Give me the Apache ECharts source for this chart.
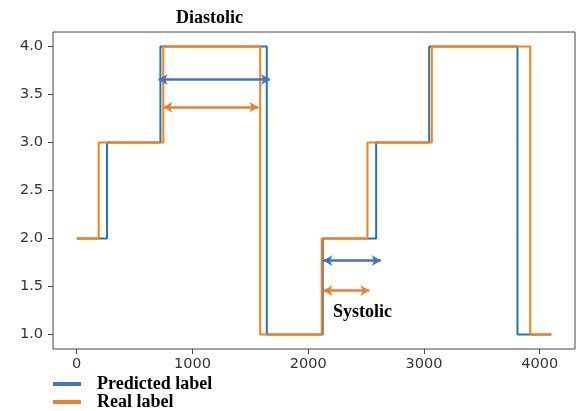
<!DOCTYPE html>
<html>
<head>
<meta charset="utf-8">
<script src="https://cdn.jsdelivr.net/npm/echarts@6/dist/echarts.min.js"></script>
<style>html,body{margin:0;padding:0;background:#fff}#c{width:578px;height:411px}</style>
</head>
<body>
<div id="c"></div>
<script>
const xTicks = [0, 1000, 2000, 3000, 4000];
const yTicks = [1.0, 1.5, 2.0, 2.5, 3.0, 3.5, 4.0];
const predX = [0, 262, 723, 1642, 2126, 2587, 3045, 3808, 4100];
const predY = [2, 3, 4, 1, 2, 3, 4, 1, 1];
const realX = [0, 190, 748, 1585, 2117, 2512, 3068, 3918, 4100];
const realY = [2, 3, 4, 1, 2, 3, 4, 1, 1];
// arrows: [x0, x1, y]
const predArrows = [[706, 1671, 3.655], [2131, 2627, 1.77]];
const realArrows = [[748, 1570, 3.367], [2131, 2529, 1.457]];
const seriesNames = ['Predicted label', 'Real label'];
const annotations = ['Diastolic', 'Systolic'];

const chart = echarts.init(document.getElementById('c'), null, {renderer: 'canvas'});
const zip = (xs, ys) => xs.map((x, i) => [x, ys[i]]);
const arrowData = arr => arr.map(a => [{coord: [a[0], a[2]]}, {coord: [a[1], a[2]]}]);
const tickFont = {fontFamily: 'DejaVu Sans', fontSize: 14.5, color: '#333'};
const serif = 'Liberation Serif';
const legendBase = {
  orient: 'vertical', left: 53, padding: 0, itemGap: 0,
  icon: 'rect', itemWidth: 28, itemHeight: 4,
  textStyle: {fontFamily: serif, fontWeight: 'bold', fontSize: 18, color: '#000', padding: [0, 0, 0, 11], lineHeight: 18}
};

chart.setOption({
  animation: false,
  grid: {left: 53, right: 3, top: 32, bottom: 62, show: true, borderColor: '#444', borderWidth: 1},
  xAxis: {
    type: 'value', min: -205, max: 4305,
    splitLine: {show: false},
    axisLine: {show: false, onZero: false},
    axisTick: {show: true, length: 5, lineStyle: {color: '#444'}, customValues: xTicks},
    axisLabel: Object.assign({margin: 8, customValues: xTicks, formatter: v => String(v)}, tickFont)
  },
  yAxis: {
    type: 'value', min: 0.85, max: 4.15,
    splitLine: {show: false},
    axisLine: {show: false, onZero: false},
    axisTick: {show: true, length: 5, lineStyle: {color: '#444'}, customValues: yTicks},
    axisLabel: Object.assign({margin: 10, customValues: yTicks, formatter: v => v.toFixed(1)}, tickFont)
  },
  legend: [
    Object.assign({top: 375, data: [{name: seriesNames[0], itemStyle: {color: '#4472C4'}}]}, legendBase),
    Object.assign({top: 393, data: [{name: seriesNames[1], itemStyle: {color: '#ED7D31'}}]}, legendBase)
  ],
  series: [
    {
      name: seriesNames[0], type: 'line', step: 'end', showSymbol: false,
      data: zip(predX, predY), color: '#1f77b4',
      lineStyle: {width: 2, color: '#1f77b4'},
      markLine: {silent: true, symbol: ['arrow', 'arrow'], symbolSize: [8, 9], label: {show: false},
        lineStyle: {color: '#4472C4', width: 2.5, type: 'solid'}, emphasis: {disabled: true},
        data: arrowData(predArrows)}
    },
    {
      name: seriesNames[1], type: 'line', step: 'end', showSymbol: false,
      data: zip(realX, realY), color: '#ff7f0e',
      lineStyle: {width: 2, color: '#ff7f0e'},
      markLine: {silent: true, symbol: ['arrow', 'arrow'], symbolSize: [8, 9], label: {show: false},
        lineStyle: {color: '#ED7D31', width: 2.5, type: 'solid'}, emphasis: {disabled: true},
        data: arrowData(realArrows)}
    }
  ],
  graphic: [
    {type: 'text', left: 176, top: 9, style: {text: annotations[0], font: 'bold 18px "Liberation Serif"', fill: '#000'}},
    {type: 'text', left: 333, top: 303, style: {text: annotations[1], font: 'bold 18px "Liberation Serif"', fill: '#000'}}
  ]
});
</script>
</body>
</html>
